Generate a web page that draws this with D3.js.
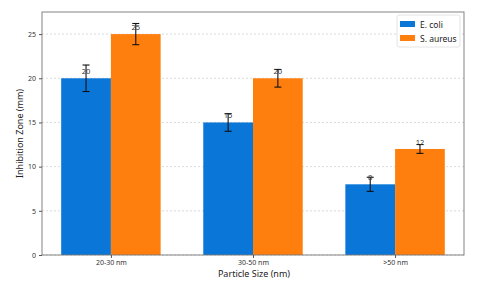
<!DOCTYPE html>
<html><head><meta charset="utf-8">
<script src="https://cdn.jsdelivr.net/npm/d3@7"></script>
<style>body{margin:0;background:#fff}svg{display:block;font-family:"Noto Sans",sans-serif}</style>
</head><body><svg id="c" width="480" height="283"></svg>
<script>
const categories = ["20-30 nm", "30-50 nm", ">50 nm"];
const seriesNames = ["E. coli", "S. aureus"];
const ecoli = [20, 15, 8];
const ecoliErr = [1.5, 1.0, 0.8];
const saureus = [25, 20, 12];
const saureusErr = [1.2, 1.0, 0.5];
const yTicks = [0, 5, 10, 15, 20, 25];
const colors = ["#0a76d8", "#ff7f0e"];

const FONT = "Noto Sans";
const svg = d3.select("#c");
const L = 42, R = 464, T = 12, B = 255;
const barW = 0.35;
const x = d3.scaleLinear().domain([-0.485, 2.485]).range([L, R]);
const y = d3.scaleLinear().domain([0, 27.5]).range([B, T]);

// grid
svg.append("g").selectAll("line").data(yTicks).join("line")
  .attr("x1", L).attr("x2", R).attr("y1", d => y(d)).attr("y2", d => y(d))
  .attr("stroke", "#ccc").attr("stroke-width", 0.7).attr("stroke-dasharray", "2,2");

const series = [
  {name: seriesNames[0], vals: ecoli, err: ecoliErr, off: -barW/2, color: colors[0]},
  {name: seriesNames[1], vals: saureus, err: saureusErr, off: barW/2, color: colors[1]}
];

series.forEach(s => {
  const g = svg.append("g");
  g.selectAll("rect").data(s.vals).join("rect")
    .attr("x", (d,i) => x(i + s.off - barW/2))
    .attr("width", x(barW) - x(0))
    .attr("y", d => y(d)).attr("height", d => B - y(d))
    .attr("fill", s.color);
  s.vals.forEach((v,i) => {
    const cx = x(i + s.off), e = s.err[i];
    g.append("line").attr("x1", cx).attr("x2", cx).attr("y1", y(v+e)).attr("y2", y(v-e))
      .attr("stroke", "#111").attr("stroke-width", 1.1);
    [v+e, v-e].forEach(t => g.append("line").attr("x1", cx-3.5).attr("x2", cx+3.5)
      .attr("y1", y(t)).attr("y2", y(t)).attr("stroke", "#111").attr("stroke-width", 1.1));
    g.append("text").attr("x", cx).attr("y", y(v) - 4).attr("text-anchor", "middle")
      .attr("font-size", 7.5).attr("fill", "#333").text(v);
  });
});

// frame
svg.append("rect").attr("x", L).attr("y", T).attr("width", R-L).attr("height", B-T)
  .attr("fill", "none").attr("stroke", "#777").attr("stroke-width", 0.9);

// y axis
const ya = svg.append("g").attr("transform", `translate(${L},0)`)
  .call(d3.axisLeft(y).tickValues(yTicks).tickSize(3).tickPadding(3));
ya.select(".domain").remove();
ya.selectAll("line").attr("stroke", "#555");
ya.selectAll("text").attr("font-size", 7).attr("fill", "#333").attr("font-family", FONT);

// x axis
const xa = svg.append("g").attr("transform", `translate(0,${B})`)
  .call(d3.axisBottom(x).tickValues([0,1,2]).tickFormat(i => categories[i]).tickSize(3).tickPadding(2));
xa.select(".domain").remove();
xa.selectAll("line").attr("stroke", "#555");
xa.selectAll("text").attr("font-size", 7).attr("fill", "#333").attr("font-family", FONT);

svg.append("text").attr("x", (L+R)/2 + 1).attr("y", 277).attr("text-anchor", "middle")
  .attr("font-size", 9).attr("fill", "#222").text("Particle Size (nm)");
svg.append("text").attr("transform", `translate(23,${(T+B)/2}) rotate(-90)`).attr("text-anchor", "middle")
  .attr("font-size", 9).attr("fill", "#222").text("Inhibition Zone (mm)");

// legend
const lg = svg.append("g");
lg.append("rect").attr("x", 397).attr("y", 15).attr("width", 63).attr("height", 32).attr("rx", 2)
  .attr("fill", "#fff").attr("fill-opacity", 0.8).attr("stroke", "#ddd").attr("stroke-width", 0.8);
series.forEach((s,i) => {
  lg.append("rect").attr("x", 400).attr("y", 21 + i*14).attr("width", 15).attr("height", 6).attr("fill", s.color);
  lg.append("text").attr("x", 420).attr("y", 27.5 + i*14).attr("font-size", 8.5).attr("fill", "#222").text(s.name);
});
</script></body></html>
